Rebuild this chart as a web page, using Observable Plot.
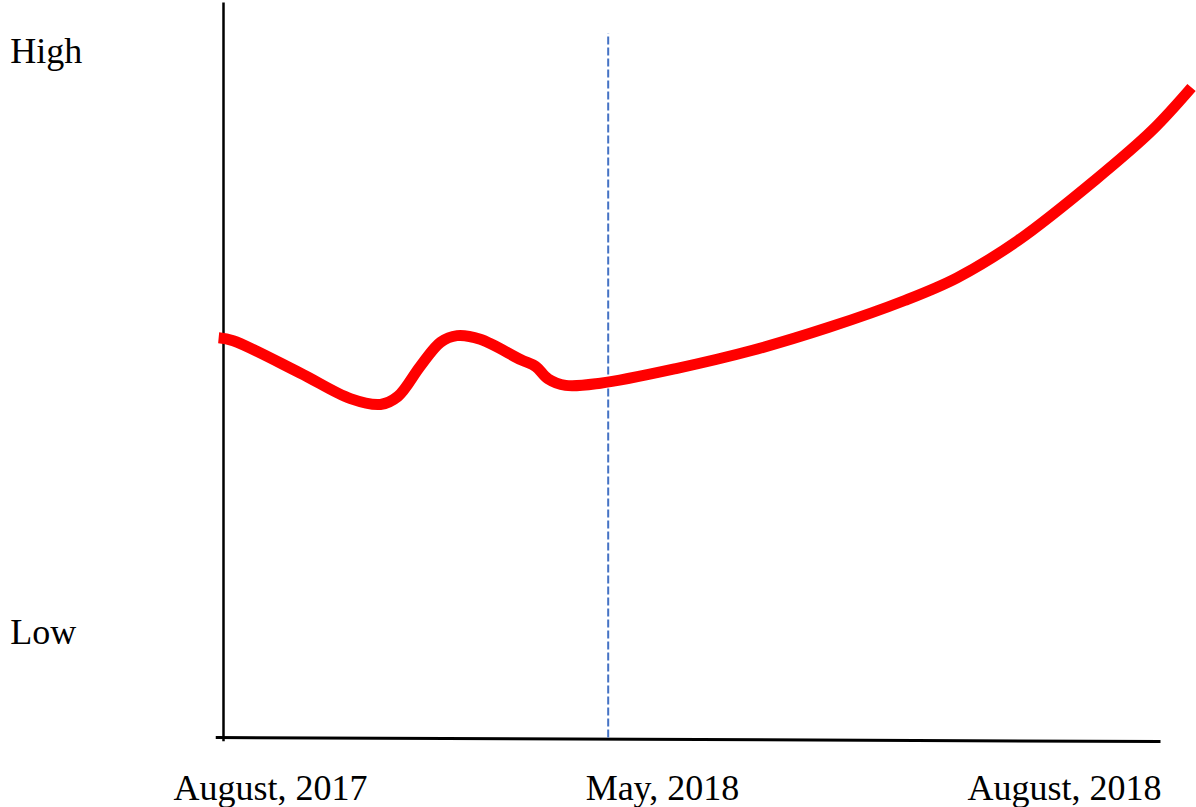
<!DOCTYPE html>
<html>
<head>
<meta charset="utf-8">
<script src="https://cdn.jsdelivr.net/npm/d3@7"></script>
<script src="https://cdn.jsdelivr.net/npm/@observablehq/plot@0.6"></script>
<style>
  html, body { margin: 0; padding: 0; background: #ffffff; }
  #chart svg { display: block; }
</style>
</head>
<body>
<div id="chart"></div>
<script>
// Timeline position (0 = start at y axis, 100 = end of curve) and relative level (0 = Low baseline, 100 = top)
const curveT = [-0.5, 1.0, 7.9, 13.1, 16.2, 18.0, 20.3, 22.4, 24.1, 26.5, 30.7, 32.2, 33.5, 35.3, 38.9, 46.7, 54.6, 62.4, 70.3, 75.7, 82.0, 89.9, 95.8, 99.9];
const curveLevel = [54.6, 54.2, 49.8, 46.3, 45.5, 46.6, 50.7, 54.0, 54.9, 54.4, 51.6, 50.7, 49.0, 48.1, 48.4, 50.4, 52.9, 56.0, 59.7, 62.8, 67.9, 76.1, 82.9, 88.8];

// Vertical marker (May, 2018)
const markerT = [39.7];
const markerSpan = [0, 96.2];

// Axis lines
const yAxisT = [0, 0];
const yAxisSpan = [-0.5, 100.4];
const xAxisT = [-0.8, 96.7];
const xAxisLevel = [0, -0.55];

// Tick labels
const xTickLabels = ["August, 2017", "May, 2018", "August, 2018"];
const xTickT = [4.85, 45.3, 86.8];
const xTickLevel = -8.6;
const yTickLabels = ["High", "Low"];
const yTickLevel = [92.2, 12.8];
const yTickT = -22.0;

const curve = curveT.map((t, i) => ({t, v: curveLevel[i]}));
const yAxisLine = yAxisT.map((t, i) => ({t, v: yAxisSpan[i]}));
const xAxisLine = xAxisT.map((t, i) => ({t, v: xAxisLevel[i]}));
const marker = markerSpan.map(v => ({t: markerT[0], v}));
const xTicks = xTickLabels.map((label, i) => ({label, t: xTickT[i], v: xTickLevel}));
const yTicks = yTickLabels.map((label, i) => ({label, t: yTickT, v: yTickLevel[i]}));

const font = "'Liberation Serif', 'Times New Roman', serif";

const chart = Plot.plot({
  width: 1196,
  height: 807,
  margin: 0,
  style: {background: "#ffffff"},
  x: {domain: [0, 100], range: [223, 1192], axis: null},
  y: {domain: [0, 100], range: [737, 5], axis: null},
  marks: [
    Plot.line(yAxisLine, {x: "t", y: "v", stroke: "#000000", strokeWidth: 2.5, strokeLinecap: "butt"}),
    Plot.line(xAxisLine, {x: "t", y: "v", stroke: "#000000", strokeWidth: 3, strokeLinecap: "butt"}),
    Plot.line(marker, {x: "t", y: "v", stroke: "#4472c4", strokeWidth: 2, strokeDasharray: "8,3", strokeLinecap: "butt"}),
    Plot.line(curve, {x: "t", y: "v", curve: "catmull-rom", stroke: "#ff0000", strokeWidth: 11, strokeLinecap: "butt", strokeLinejoin: "round"}),
    Plot.text(xTicks, {x: "t", y: "v", text: "label", textAnchor: "middle", lineAnchor: "bottom", fontFamily: font, fontSize: 36, fill: "#000000"}),
    Plot.text(yTicks, {x: "t", y: "v", text: "label", textAnchor: "start", lineAnchor: "bottom", fontFamily: font, fontSize: 36, fill: "#000000"})
  ]
});

document.getElementById("chart").appendChild(chart);
</script>
</body>
</html>
